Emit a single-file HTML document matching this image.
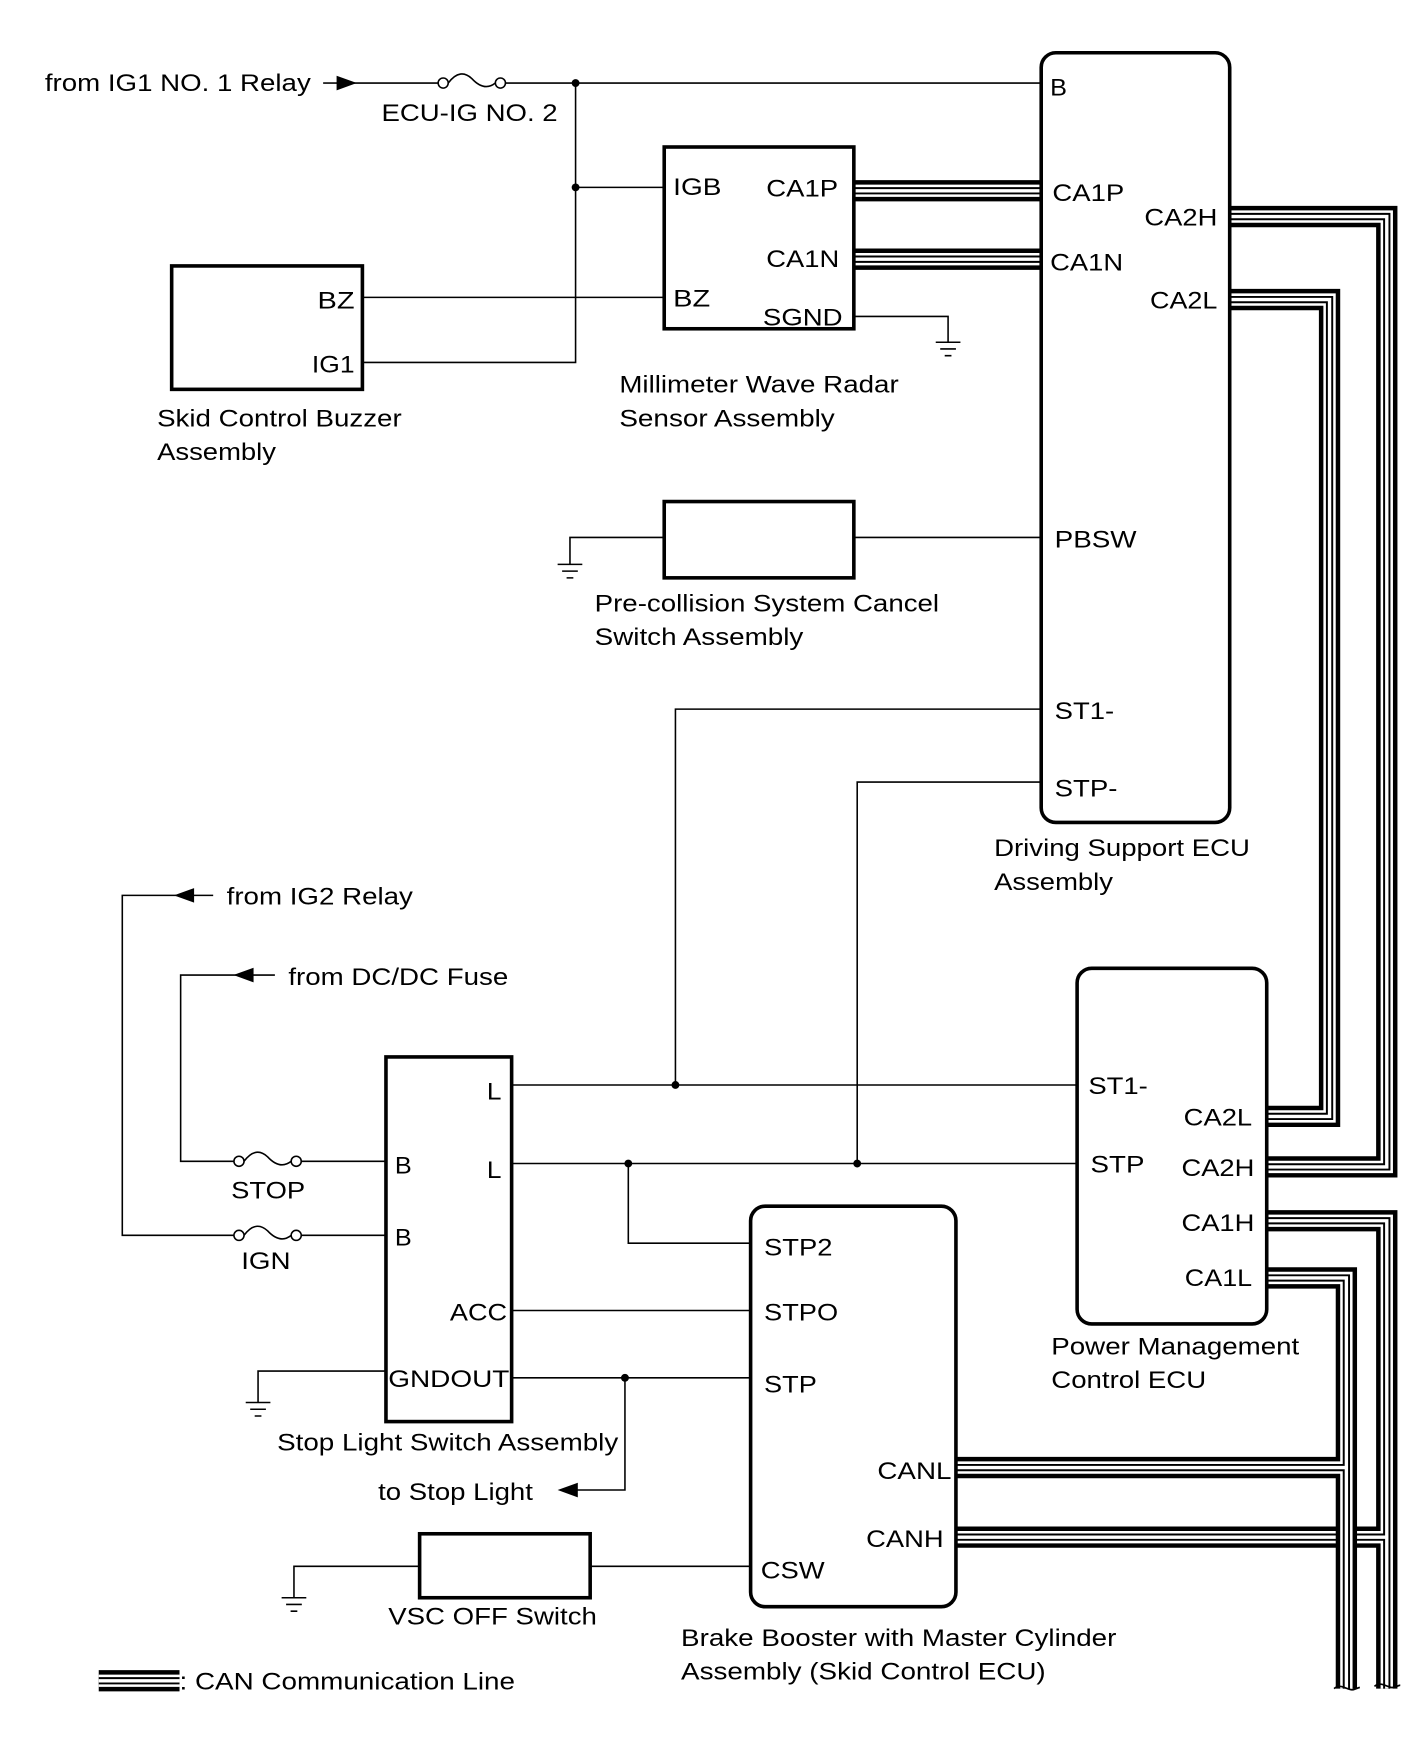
<!DOCTYPE html>
<html><head><meta charset="utf-8"><style>
html,body{margin:0;padding:0;background:#fff;}
svg{display:block;}
text{font-family:"Liberation Sans",Arial,"DejaVu Sans",sans-serif;font-size:21.5px;fill:#000;}
</style></head><body>
<svg width="1421" height="1760" viewBox="0 0 1266.5 1568.6" xmlns="http://www.w3.org/2000/svg">
<g fill="none" stroke="#000" stroke-width="1.4">
<path d="M300,74 H391 M450,74 H928"/>
<path d="M513,74 V323 H323"/>
<path d="M513,167 H592"/>
<path d="M323,265 H592"/>
<circle cx="395" cy="74" r="4.5"/><circle cx="446" cy="74" r="4.5"/>
<path d="M399.5,74 C407,64 414,64 420.5,70 C427,77 434,80 441.5,74"/>
<circle cx="213" cy="1035" r="4.5"/><circle cx="264" cy="1035" r="4.5"/>
<path d="M217.5,1035 C225,1025 232,1025 238.5,1031 C245,1038 252,1041 259.5,1035"/>
<circle cx="213" cy="1101" r="4.5"/><circle cx="264" cy="1101" r="4.5"/>
<path d="M217.5,1101 C225,1091 232,1091 238.5,1097 C245,1104 252,1107 259.5,1101"/>
<path d="M761,282 H845 V305 M834,305 H856 M838,311 H852 M842,317 H848"/>
<path d="M761,479 H928 M592,479 H508 V503 M497,503 H519 M501,509 H515 M505,515 H511"/>
<path d="M928,632 H602 V967"/>
<path d="M928,697 H764 V1037"/>
<path d="M456,967 H960 M456,1037 H960"/>
<path d="M560,1037 V1108 H669"/>
<path d="M456,1168 H669"/>
<path d="M456,1228 H669 M557,1228 V1328 H512"/>
<path d="M344,1222 H230 V1250 M219,1250 H241 M223,1256 H237 M227,1262 H233"/>
<path d="M344,1035 H268.5 M208.5,1035 H161 V869 H222"/>
<path d="M344,1101 H268.5 M208.5,1101 H109 V798 H170"/>
<path d="M222,869 H245 M170,798 H190"/>
<path d="M526,1396 H669 M374,1396 H262 V1424 M251,1424 H273 M255,1430 H269 M259,1436 H265"/>
</g>
<g fill="#000">
<path d="M288,74 H302" stroke="#000" stroke-width="1.4"/>
<polygon points="300,67.5 318,74 300,80.5"/>
<polygon points="155,798 173,791.5 173,804.5"/>
<polygon points="208,869 226,862.5 226,875.5"/>
<polygon points="497,1328 515,1321.5 515,1334.5"/>
<circle cx="513" cy="74" r="3.5"/><circle cx="513" cy="167" r="3.5"/>
<circle cx="602" cy="967" r="3.5"/><circle cx="560" cy="1037" r="3.5"/>
<circle cx="764" cy="1037" r="3.5"/><circle cx="557" cy="1228" r="3.5"/>
</g>
<g fill="none" stroke-linejoin="miter" stroke-linecap="butt">
<g>
<path d="M761,170 H928 M761,231 H928" stroke="#000" stroke-width="19"/>
<path d="M761,170 H928 M761,231 H928" stroke="#fff" stroke-width="11"/>
<path d="M761,170 H928 M761,231 H928" stroke="#000" stroke-width="6.5"/>
<path d="M761,170 H928 M761,231 H928" stroke="#fff" stroke-width="3"/>
</g>
<g>
<path d="M1096,193 H1236 V1040 H1128 M1096,267 H1185 V995 H1128" stroke="#000" stroke-width="19"/>
<path d="M1096,193 H1236 V1040 H1128 M1096,267 H1185 V995 H1128" stroke="#fff" stroke-width="11"/>
<path d="M1096,193 H1236 V1040 H1128 M1096,267 H1185 V995 H1128" stroke="#000" stroke-width="6.5"/>
<path d="M1096,193 H1236 V1040 H1128 M1096,267 H1185 V995 H1128" stroke="#fff" stroke-width="3"/>
</g>
<g>
<path d="M1128,1088 H1236 V1505 M852,1370 H1236" stroke="#000" stroke-width="19"/>
<path d="M1128,1088 H1236 V1505 M852,1370 H1236" stroke="#fff" stroke-width="11"/>
<path d="M1128,1088 H1236 V1505 M852,1370 H1236" stroke="#000" stroke-width="6.5"/>
<path d="M1128,1088 H1236 V1505 M852,1370 H1236" stroke="#fff" stroke-width="3"/>
</g>
<g>
<path d="M1128,1139 H1200 V1505 M852,1308 H1200" stroke="#000" stroke-width="19"/>
<path d="M1128,1139 H1200 V1505 M852,1308 H1200" stroke="#fff" stroke-width="11"/>
<path d="M1128,1139 H1200 V1505 M852,1308 H1200" stroke="#000" stroke-width="6.5"/>
<path d="M1128,1139 H1200 V1505 M852,1308 H1200" stroke="#fff" stroke-width="3"/>
</g>
<path d="M1189,1505 C1195,1500 1200,1506 1205,1506 C1208,1506 1210,1504 1212,1504 M1225,1503 C1231,1498 1236,1504 1241,1504 C1244,1504 1246,1502 1248,1502" stroke="#000" stroke-width="1.5"/>
<path d="M88,1498 H160" stroke="#000" stroke-width="19"/>
<path d="M88,1498 H160" stroke="#fff" stroke-width="11"/>
<path d="M88,1498 H160" stroke="#000" stroke-width="6.5"/>
<path d="M88,1498 H160" stroke="#fff" stroke-width="3"/>
</g>
<g fill="none" stroke="#000" stroke-width="3.2">
<rect x="153" y="237" width="170" height="110"/>
<rect x="592" y="131" width="169" height="162"/>
<rect x="928" y="47" width="168" height="686" rx="13"/>
<rect x="592" y="447" width="169" height="68"/>
<rect x="960" y="863" width="169" height="317" rx="13"/>
<rect x="344" y="942" width="112" height="325"/>
<rect x="669" y="1075" width="183" height="357" rx="13"/>
<rect x="374" y="1367" width="152" height="57"/>
</g>
<g>
<text x="40" y="81" textLength="237" lengthAdjust="spacingAndGlyphs">from IG1 NO. 1 Relay</text>
<text x="340" y="108" textLength="157" lengthAdjust="spacingAndGlyphs">ECU-IG NO. 2</text>
<text x="936" y="85" textLength="15" lengthAdjust="spacingAndGlyphs">B</text>
<text x="600" y="174" textLength="43" lengthAdjust="spacingAndGlyphs">IGB</text>
<text x="683" y="175" textLength="64" lengthAdjust="spacingAndGlyphs">CA1P</text>
<text x="683" y="238" textLength="65" lengthAdjust="spacingAndGlyphs">CA1N</text>
<text x="600" y="273" textLength="33" lengthAdjust="spacingAndGlyphs">BZ</text>
<text x="680" y="290" textLength="71" lengthAdjust="spacingAndGlyphs">SGND</text>
<text x="283" y="275" textLength="33" lengthAdjust="spacingAndGlyphs">BZ</text>
<text x="278" y="332" textLength="38" lengthAdjust="spacingAndGlyphs">IG1</text>
<text x="140" y="380" textLength="218" lengthAdjust="spacingAndGlyphs">Skid Control Buzzer</text>
<text x="140" y="410" textLength="106" lengthAdjust="spacingAndGlyphs">Assembly</text>
<text x="552" y="350" textLength="249" lengthAdjust="spacingAndGlyphs">Millimeter Wave Radar</text>
<text x="552" y="380" textLength="192" lengthAdjust="spacingAndGlyphs">Sensor Assembly</text>
<text x="938" y="179" textLength="64" lengthAdjust="spacingAndGlyphs">CA1P</text>
<text x="936" y="241" textLength="65" lengthAdjust="spacingAndGlyphs">CA1N</text>
<text x="1020" y="201" textLength="65" lengthAdjust="spacingAndGlyphs">CA2H</text>
<text x="1025" y="275" textLength="60" lengthAdjust="spacingAndGlyphs">CA2L</text>
<text x="940" y="488" textLength="73" lengthAdjust="spacingAndGlyphs">PBSW</text>
<text x="530" y="545" textLength="307" lengthAdjust="spacingAndGlyphs">Pre-collision System Cancel</text>
<text x="530" y="575" textLength="186" lengthAdjust="spacingAndGlyphs">Switch Assembly</text>
<text x="940" y="641" textLength="53" lengthAdjust="spacingAndGlyphs">ST1-</text>
<text x="940" y="710" textLength="56" lengthAdjust="spacingAndGlyphs">STP-</text>
<text x="886" y="763" textLength="228" lengthAdjust="spacingAndGlyphs">Driving Support ECU</text>
<text x="886" y="793" textLength="106" lengthAdjust="spacingAndGlyphs">Assembly</text>
<text x="202" y="806" textLength="166" lengthAdjust="spacingAndGlyphs">from IG2 Relay</text>
<text x="257" y="878" textLength="196" lengthAdjust="spacingAndGlyphs">from DC/DC Fuse</text>
<text x="434" y="980" textLength="13" lengthAdjust="spacingAndGlyphs">L</text>
<text x="434" y="1050" textLength="13" lengthAdjust="spacingAndGlyphs">L</text>
<text x="352" y="1046" textLength="15" lengthAdjust="spacingAndGlyphs">B</text>
<text x="352" y="1110" textLength="15" lengthAdjust="spacingAndGlyphs">B</text>
<text x="206" y="1068" textLength="66" lengthAdjust="spacingAndGlyphs">STOP</text>
<text x="215" y="1131" textLength="44" lengthAdjust="spacingAndGlyphs">IGN</text>
<text x="401" y="1177" textLength="51" lengthAdjust="spacingAndGlyphs">ACC</text>
<text x="346" y="1236" textLength="108" lengthAdjust="spacingAndGlyphs">GNDOUT</text>
<text x="247" y="1293" textLength="304" lengthAdjust="spacingAndGlyphs">Stop Light Switch Assembly</text>
<text x="337" y="1337" textLength="138" lengthAdjust="spacingAndGlyphs">to Stop Light</text>
<text x="970" y="975" textLength="53" lengthAdjust="spacingAndGlyphs">ST1-</text>
<text x="972" y="1045" textLength="48" lengthAdjust="spacingAndGlyphs">STP</text>
<text x="1055" y="1003" textLength="61" lengthAdjust="spacingAndGlyphs">CA2L</text>
<text x="1053" y="1048" textLength="65" lengthAdjust="spacingAndGlyphs">CA2H</text>
<text x="1053" y="1097" textLength="65" lengthAdjust="spacingAndGlyphs">CA1H</text>
<text x="1056" y="1146" textLength="60" lengthAdjust="spacingAndGlyphs">CA1L</text>
<text x="937" y="1207" textLength="221" lengthAdjust="spacingAndGlyphs">Power Management</text>
<text x="937" y="1237" textLength="138" lengthAdjust="spacingAndGlyphs">Control ECU</text>
<text x="681" y="1119" textLength="61" lengthAdjust="spacingAndGlyphs">STP2</text>
<text x="681" y="1177" textLength="66" lengthAdjust="spacingAndGlyphs">STPO</text>
<text x="681" y="1241" textLength="47" lengthAdjust="spacingAndGlyphs">STP</text>
<text x="782" y="1318" textLength="66" lengthAdjust="spacingAndGlyphs">CANL</text>
<text x="772" y="1379" textLength="69" lengthAdjust="spacingAndGlyphs">CANH</text>
<text x="678" y="1407" textLength="57" lengthAdjust="spacingAndGlyphs">CSW</text>
<text x="346" y="1448" textLength="186" lengthAdjust="spacingAndGlyphs">VSC OFF Switch</text>
<text x="607" y="1467" textLength="388" lengthAdjust="spacingAndGlyphs">Brake Booster with Master Cylinder</text>
<text x="607" y="1497" textLength="325" lengthAdjust="spacingAndGlyphs">Assembly (Skid Control ECU)</text>
<text x="160" y="1506" textLength="299" lengthAdjust="spacingAndGlyphs">: CAN Communication Line</text>
</g>
</svg>
</body></html>
